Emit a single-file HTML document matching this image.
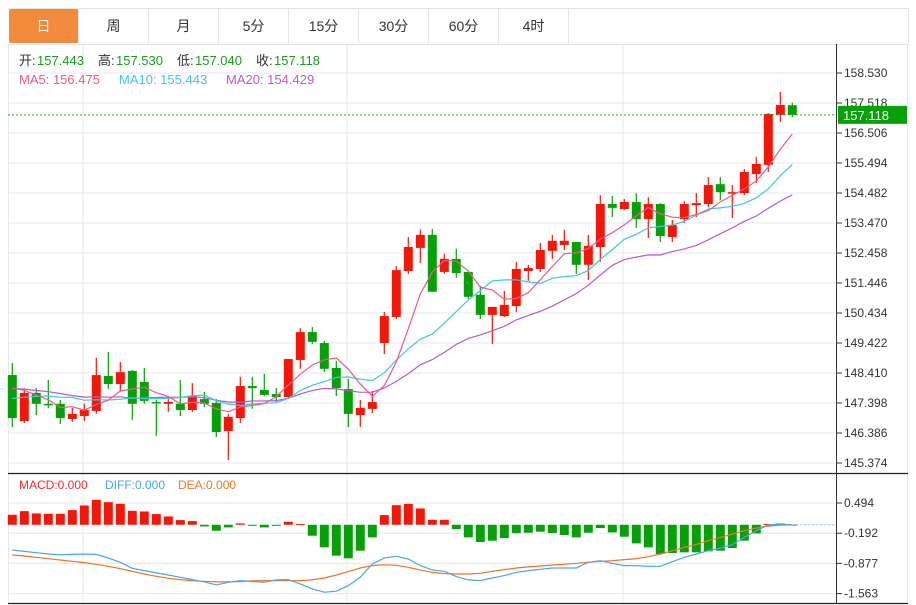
<!DOCTYPE html>
<html><head><meta charset="utf-8">
<style>
body{margin:0;background:#fff;font-family:"Liberation Sans","Noto Sans CJK SC",sans-serif;}
#wrap{position:relative;width:916px;height:605px;overflow:hidden;}
.tab{position:absolute;top:9px;height:34px;width:69px;border-right:1px solid #e1e4e8;text-align:center;line-height:34px;font-size:14px;color:#333;}
svg{position:absolute;left:0;top:0;}
</style></head><body>
<div id="wrap">
<div style="position:absolute;left:8px;top:8px;width:900px;height:35px;border:1px solid #e1e4e8;border-left:none;"></div>
<div class="tab" style="left:9px;background:#f38b3c;color:#fff;border-radius:2px;">日</div>
<div class="tab" style="left:79px">周</div>
<div class="tab" style="left:149px">月</div>
<div class="tab" style="left:219px">5分</div>
<div class="tab" style="left:289px">15分</div>
<div class="tab" style="left:359px">30分</div>
<div class="tab" style="left:429px">60分</div>
<div class="tab" style="left:499px">4时</div>
<svg id="chart" width="916" height="605"></svg>
</div>
<script>
const opens=[148.34,146.79,147.74,147.37,147.37,146.86,146.96,147.13,148.31,148.04,148.48,148.11,147.43,147.37,147.37,147.16,147.53,147.40,146.45,146.89,147.97,147.84,147.70,147.60,148.85,149.79,149.42,148.58,147.87,146.99,147.20,149.42,150.30,151.85,152.63,153.07,151.82,152.26,151.82,151.05,150.37,150.33,150.67,151.85,151.92,152.53,152.73,152.83,152.06,152.66,154.11,153.94,154.18,153.60,154.11,153.00,153.60,154.07,154.11,154.78,154.48,154.48,155.12,155.43,157.12,157.443];
const highs=[148.75,147.90,147.90,148.17,147.50,147.23,147.37,148.92,149.12,148.78,148.51,148.58,147.50,147.60,148.17,148.07,147.77,147.53,147.03,148.28,148.28,148.38,147.90,148.88,149.92,149.96,149.49,148.82,148.21,147.50,147.80,150.47,152.02,153.00,153.24,153.27,152.43,152.60,151.82,151.35,150.64,151.18,152.16,152.06,152.80,153.07,153.24,152.83,153.07,154.41,154.38,154.28,154.48,154.34,154.14,153.57,154.21,154.48,155.02,155.02,154.75,155.29,155.70,157.18,157.89,157.530];
const lows=[146.59,146.72,146.99,147.23,146.69,146.76,146.79,147.03,147.87,147.80,146.83,147.37,146.29,147.10,146.96,147.10,147.26,146.25,145.48,146.72,147.20,147.63,147.43,147.53,148.55,149.39,148.44,147.63,146.59,146.59,147.06,149.05,150.23,151.75,152.12,151.15,151.75,151.62,150.91,150.23,149.39,150.30,150.47,151.52,151.82,152.26,152.56,151.75,151.55,152.16,153.67,153.91,153.30,152.97,152.83,152.83,153.47,153.67,154.01,154.24,153.64,154.41,154.82,155.19,156.88,157.040];
const closes=[146.89,147.74,147.37,147.33,146.89,147.03,147.16,148.34,148.04,148.44,147.37,147.47,147.40,147.43,147.16,147.63,147.37,146.42,146.93,147.97,147.90,147.67,147.60,148.88,149.79,149.46,148.55,147.90,147.03,147.23,147.43,150.33,151.88,152.66,153.07,151.15,152.26,151.78,150.98,150.37,150.64,150.71,151.92,151.95,152.56,152.87,152.87,152.06,152.70,154.11,153.98,154.18,153.60,154.11,153.03,153.40,154.11,154.14,154.75,154.51,154.51,155.19,155.46,157.15,157.45,157.118];
const priorCloses=[148.2,148.3,148.1,148.2,148.4,148.2,148.1,148.3,148.2,148.3,147.3,147.1,147.2,147.3,147.1,148.1,148.2,148.1,148.2];
const priceTicks=[158.530,157.518,156.506,155.494,154.482,153.470,152.458,151.446,150.434,149.422,148.410,147.398,146.386,145.374];
const macdBars=[0.226,0.309,0.257,0.249,0.249,0.332,0.438,0.566,0.513,0.475,0.317,0.302,0.242,0.189,0.106,0.083,-0.038,-0.136,-0.060,0.030,-0.023,-0.060,-0.023,0.068,0.015,-0.249,-0.513,-0.702,-0.762,-0.589,-0.287,0.219,0.445,0.475,0.370,0.113,0.113,-0.098,-0.287,-0.392,-0.362,-0.302,-0.189,-0.181,-0.158,-0.189,-0.234,-0.287,-0.181,-0.075,-0.174,-0.272,-0.423,-0.513,-0.664,-0.642,-0.626,-0.626,-0.604,-0.589,-0.528,-0.362,-0.196,0.015,0.030,0.005];
const diffLine=[-0.574,-0.604,-0.634,-0.664,-0.679,-0.672,-0.664,-0.672,-0.755,-0.853,-0.989,-1.041,-1.094,-1.140,-1.192,-1.245,-1.298,-1.366,-1.306,-1.268,-1.291,-1.306,-1.253,-1.245,-1.343,-1.457,-1.532,-1.509,-1.381,-1.192,-0.891,-0.755,-0.717,-0.777,-0.928,-1.026,-1.057,-1.177,-1.253,-1.268,-1.208,-1.155,-1.079,-1.041,-1.011,-0.981,-0.981,-0.981,-0.853,-0.815,-0.875,-0.928,-0.928,-0.943,-0.943,-0.838,-0.740,-0.664,-0.589,-0.528,-0.453,-0.287,-0.136,0,0.015,0];
const deaLine=[-0.687,-0.709,-0.740,-0.770,-0.800,-0.830,-0.860,-0.898,-0.943,-0.996,-1.057,-1.117,-1.170,-1.215,-1.245,-1.268,-1.283,-1.298,-1.298,-1.291,-1.275,-1.268,-1.268,-1.268,-1.268,-1.253,-1.208,-1.140,-1.064,-0.981,-0.928,-0.906,-0.921,-0.966,-1.026,-1.079,-1.109,-1.117,-1.117,-1.102,-1.057,-1.019,-0.981,-0.958,-0.936,-0.913,-0.898,-0.875,-0.853,-0.830,-0.815,-0.792,-0.770,-0.725,-0.664,-0.589,-0.513,-0.445,-0.362,-0.287,-0.211,-0.136,-0.075,-0.030,-0.008,0];
const macdTicks=[0.494,-0.192,-0.877,-1.563];

const NS='http://www.w3.org/2000/svg';
const svg=document.getElementById('chart');
function mk(tag,attrs,parent){const e=document.createElementNS(NS,tag);for(const k in attrs)e.setAttribute(k,attrs[k]);(parent||svg).appendChild(e);return e;}
const xOf=i=>12.3+12*i;
const yP=p=>73+(158.530-p)*(30/1.012);
const yM=v=>503+(0.494-v)*(30.2/0.6857);

// frame & grid
let g=mk('g',{});


priceTicks.forEach(p=>{mk('line',{x1:8,x2:836,y1:yP(p),y2:yP(p),stroke:'#e4e8ee','stroke-width':1},g);});
macdTicks.forEach(v=>{mk('line',{x1:8,x2:836,y1:yM(v),y2:yM(v),stroke:'#e4e8ee','stroke-width':1},g);});
[83,347,623].forEach(x=>{mk('line',{x1:x,x2:x,y1:44,y2:603,stroke:'#e4e8ee','stroke-width':1},g);});
mk('line',{x1:8.5,x2:8.5,y1:44,y2:603,stroke:'#e4e8ee'},g);
mk('line',{x1:907.5,x2:907.5,y1:44,y2:603,stroke:'#e4e8ee'},g);
mk('line',{x1:8,x2:908,y1:473.5,y2:473.5,stroke:'#222','stroke-width':1.2},g);
mk('line',{x1:8,x2:908,y1:603.5,y2:603.5,stroke:'#222','stroke-width':1.2},g);
mk('line',{x1:836.5,x2:836.5,y1:44,y2:604,stroke:'#333','stroke-width':1},g);

// price axis
let ax=mk('g',{});


priceTicks.forEach(p=>{const y=yP(p);
 mk('line',{x1:837,x2:842,y1:y,y2:y,stroke:'#333'},ax);
 const t=mk('text',{x:844,y:y+4,'font-size':12,fill:'#333','font-family':'Liberation Sans, sans-serif'},ax);t.textContent=p.toFixed(3);
 
 });
let mx=mk('g',{});


macdTicks.forEach(v=>{const y=yM(v);
 mk('line',{x1:837,x2:842,y1:y,y2:y,stroke:'#333'},mx);
 const t=mk('text',{x:844,y:y+4,'font-size':12,fill:'#333'},mx);t.textContent=v.toFixed(3);
 
 });

// MA
function ma(n){const all=priorCloses.concat(closes);const off=priorCloses.length;const r=[];
 for(let i=0;i<closes.length;i++){let s=0;for(let j=0;j<n;j++)s+=all[off+i-j];r.push(s/n);}return r;}
function line(vals,fy,color,name,w){const pts=vals.map((v,i)=>xOf(i).toFixed(1)+','+fy(v).toFixed(1)).join(' ');
 const l=mk('polyline',{points:pts,fill:'none',stroke:color,'stroke-width':w||1.2});
 
 }

// candles
let cg=mk('g',{});


for(let i=0;i<closes.length;i++){
 const up=closes[i]>=opens[i];const c=up?'#f01808':'#08a008';const x=xOf(i);
 const cd=mk('g',{},cg);
 
 
 mk('line',{x1:x,x2:x,y1:yP(highs[i]),y2:yP(lows[i]),stroke:c,'stroke-width':1.2},cd);
 const t=yP(Math.max(opens[i],closes[i])),b=yP(Math.min(opens[i],closes[i]));
 mk('rect',{x:x-4.5,y:t,width:9,height:Math.max(1.5,b-t),fill:c},cd);
}
line(ma(20),yP,'#b45cd0','ma20-line');
line(ma(10),yP,'#3ec9e0','ma10-line');
line(ma(5),yP,'#f0588a','ma5-line');

// last price
const lp=closes[closes.length-1];
const ly=yP(lp);
const dl=mk('line',{x1:8,x2:836,y1:ly,y2:ly,stroke:'#22a822','stroke-dasharray':'2,2'});


const lb=mk('rect',{x:838,y:ly-9,width:69,height:18,fill:'#08a008'});


const lt=mk('text',{x:843,y:ly+5,'font-size':13,fill:'#fff'});lt.textContent=lp.toFixed(3);



// MACD
let mg=mk('g',{});


const z=yM(0);
macdBars.forEach((v,i)=>{const y=yM(v);const c=v>=0?'#f01808':'#08a008';
 const r=mk('rect',{x:xOf(i)-4.5,y:Math.min(y,z),width:9,height:Math.max(1,Math.abs(y-z)),fill:c},mg);
 
 });
const zl=mk('line',{x1:xOf(macdBars.length-1),x2:836,y1:z,y2:z,stroke:'#6cc8e8','stroke-dasharray':'2,2'});


line(deaLine,yM,'#f07522','dea-line');
line(diffLine,yM,'#4aa6f0','diff-line');

// legends
function txt(x,y,s,color,name,size){const t=mk('text',{x:x,y:y,'font-size':size||13,fill:color,'font-family':'Liberation Sans, Noto Sans CJK SC, sans-serif'});t.textContent=s;
 
 return t;}
const gr='#1a9e1a';
txt(19,65,'开:','#333','open-label');txt(37,65,'157.443',gr,'open-value');
txt(98,65,'高:','#333','high-label');txt(116,65,'157.530',gr,'high-value');
txt(177,65,'低:','#333','low-label');txt(195,65,'157.040',gr,'low-value');
txt(256,65,'收:','#333','close-label');txt(274,65,'157.118',gr,'close-value');
txt(19,84,'MA5: 156.475','#f0588a','ma5-legend');
txt(119,84,'MA10: 155.443','#3ec9e0','ma10-legend');
txt(226,84,'MA20: 154.429','#b45cd0','ma20-legend');
txt(19,489,'MACD:0.000','#f03030','macd-legend',12);
txt(105,489,'DIFF:0.000','#4aa6f0','diff-legend',12);
txt(178,489,'DEA:0.000','#f07522','dea-legend',12);
</script>
</body></html>
